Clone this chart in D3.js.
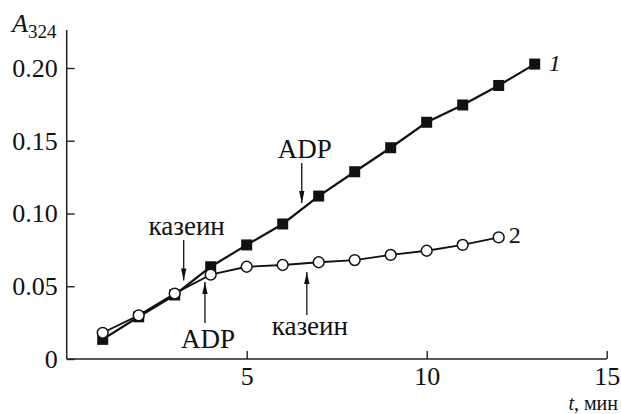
<!DOCTYPE html>
<html><head><meta charset="utf-8">
<script src="https://cdn.jsdelivr.net/npm/d3@7"></script>
<style>body{margin:0;background:#fff}svg{display:block}svg text{font-family:"Liberation Serif","DejaVu Serif",serif !important;fill:#111}</style>
</head><body>
<svg id="c" width="621" height="414"></svg>
<script>
const times1 = [1,2,3,4,5,6,7,8,9,10,11,12,13];
const series1 = [0.0135,0.029,0.044,0.0634,0.0784,0.0928,0.112,0.1287,0.1452,0.1627,0.1746,0.188,0.2027];
const times2 = [1,2,3,4,5,6,7,8,9,10,11,12];
const series2 = [0.018,0.030,0.045,0.058,0.0634,0.0646,0.0665,0.068,0.0715,0.0744,0.0784,0.0836];
const xTicks = [5,10,15];
const yTicks = [0,0.05,0.10,0.15,0.20];
const yTickLabels = ["0","0.05","0.10","0.15","0.20"];
const annotations = [
  {text:"казеин", t:3.25, tip:0.054, tail:0.0818, dir:"down"},
  {text:"ADP", t:6.53, tip:0.1072, tail:0.1347, dir:"down"},
  {text:"ADP", t:3.84, tip:0.0529, tail:0.0247, dir:"up"},
  {text:"казеин", t:6.67, tip:0.0598, tail:0.0302, dir:"up"}
];

const svg = d3.select("#c");
const x = d3.scaleLinear().domain([0,15]).range([66.7,606.7]);
const y = d3.scaleLinear().domain([0,0.20]).range([359,68]);

const xAxis = svg.append("g").attr("transform","translate(0,359)")
  .call(d3.axisBottom(x).tickValues(xTicks).tickSize(-8).tickPadding(8).tickSizeOuter(0));
const yAxis = svg.append("g").attr("transform","translate(66.7,0)")
  .call(d3.axisLeft(y).tickValues(yTicks).tickSize(-8).tickPadding(9).tickFormat((d,i)=>yTickLabels[i]).tickSizeOuter(0));
[xAxis,yAxis].forEach(g=>{
  g.attr("font-family",null);
  g.select(".domain").remove();
  g.selectAll("line").attr("stroke","#222").attr("stroke-width",1.4);
  g.selectAll("text").attr("font-size",26).attr("fill","#111");
});
svg.append("line").attr("x1",x(0)).attr("x2",x(15)).attr("y1",359).attr("y2",359).attr("stroke","#222").attr("stroke-width",1.5);
svg.append("line").attr("x1",x(0)).attr("x2",x(0)).attr("y1",359).attr("y2",30).attr("stroke","#222").attr("stroke-width",1.5);

const at = svg.append("text").attr("x",12).attr("y",32).attr("font-size",26);
at.append("tspan").attr("font-style","italic").text("A");
at.append("tspan").attr("dy",6).attr("font-size",19).text("324");
const tt = svg.append("text").attr("x",618).attr("y",409.5).attr("text-anchor","end").attr("font-size",20);
tt.append("tspan").attr("font-style","italic").text("t");
tt.append("tspan").text(", мин");

const line = d3.line().x(d=>x(d[0])).y(d=>y(d[1]));
const d1 = times1.map((t,i)=>[t,series1[i]]);
const d2 = times2.map((t,i)=>[t,series2[i]]);

svg.append("path").datum(d1).attr("d",line).attr("fill","none").attr("stroke","#111").attr("stroke-width",2.2);
svg.append("path").datum(d2).attr("d",line).attr("fill","none").attr("stroke","#111").attr("stroke-width",1.8);

svg.selectAll(".sq").data(d1).enter().append("rect")
  .attr("x",d=>x(d[0])-5.5).attr("y",d=>y(d[1])-5.5).attr("width",11).attr("height",11).attr("fill","#111");
svg.selectAll(".ci").data(d2).enter().append("circle")
  .attr("cx",d=>x(d[0])).attr("cy",d=>y(d[1])).attr("r",5.4).attr("fill","#fff").attr("stroke","#111").attr("stroke-width",1.5);

svg.append("text").attr("x",x(13)+14).attr("y",y(0.2027)+7).attr("font-size",24).attr("font-style","italic").text("1");
svg.append("text").attr("x",x(12)+10).attr("y",y(0.0836)+6).attr("font-size",24).text("2");

const defs = svg.append("defs");
defs.append("marker").attr("id","ah").attr("viewBox","0 0 12 6").attr("refX",12).attr("refY",3)
  .attr("markerWidth",12).attr("markerHeight",6).attr("markerUnits","userSpaceOnUse").attr("orient","auto")
  .append("path").attr("d","M0,0.3 L12,3 L0,5.7 Z").attr("fill","#111");
annotations.forEach(a=>{
  const ax = x(a.t), ty = y(a.tip), sy = y(a.tail);
  svg.append("line").attr("x1",ax).attr("x2",ax).attr("y1",sy).attr("y2",ty)
    .attr("stroke","#111").attr("stroke-width",1.3).attr("marker-end","url(#ah)");
  const upper = a.text === "ADP";
  const txtY = a.dir==="down" ? sy-5 : sy + (upper ? 25 : 20);
  svg.append("text").attr("x",ax+3).attr("y",txtY).attr("text-anchor","middle").attr("font-size",27).text(a.text);
});
</script>
</body></html>
